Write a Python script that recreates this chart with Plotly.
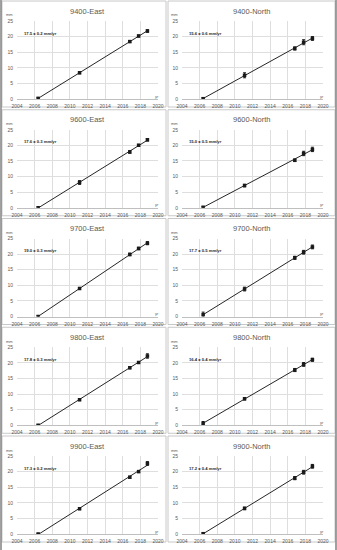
import numpy as np
import plotly.graph_objects as go

W, H = 337, 550

years = [2006.4, 2011.1, 2016.8, 2017.8, 2018.8]

titles = ["9400-East", "9400-North", "9600-East", "9600-North", "9700-East",
          "9700-North", "9800-East", "9800-North", "9900-East", "9900-North"]
rates = ["17.5 ± 0.2 mm/yr", "15.6 ± 0.6 mm/yr", "17.6 ± 0.3 mm/yr", "15.0 ± 0.5 mm/yr",
         "19.0 ± 0.3 mm/yr", "17.7 ± 0.5 mm/yr", "17.8 ± 0.3 mm/yr", "16.4 ± 0.4 mm/yr",
         "17.3 ± 0.2 mm/yr", "17.2 ± 0.4 mm/yr"]

v_9400_east = [0.2, 8.4, 18.4, 20.2, 21.8]
v_9400_north = [0.1, 7.6, 16.2, 18.2, 19.4]
v_9600_east = [0.0, 8.1, 17.9, 20.0, 21.8]
v_9600_north = [0.2, 7.1, 15.2, 17.4, 18.7]
v_9700_east = [0.0, 9.0, 19.9, 21.8, 23.5]
v_9700_north = [0.6, 8.8, 18.8, 20.6, 22.3]
v_9800_east = [0.0, 8.2, 18.4, 20.1, 22.2]
v_9800_north = [0.6, 8.5, 17.7, 19.5, 21.0]
v_9900_east = [0.0, 8.1, 18.2, 20.0, 22.6]
v_9900_north = [0.1, 8.2, 17.9, 19.8, 21.7]

e_9400_east = [0.3, 0.3, 0.3, 0.3, 0.4]
e_9400_north = [0.3, 0.8, 0.5, 0.8, 0.6]
e_9600_east = [0.2, 0.6, 0.4, 0.3, 0.4]
e_9600_north = [0.2, 0.4, 0.4, 0.7, 0.7]
e_9700_east = [0.2, 0.3, 0.4, 0.4, 0.5]
e_9700_north = [0.8, 0.6, 0.5, 0.6, 0.6]
e_9800_east = [0.2, 0.3, 0.3, 0.3, 0.7]
e_9800_north = [0.6, 0.4, 0.5, 0.6, 0.5]
e_9900_east = [0.2, 0.3, 0.3, 0.3, 0.6]
e_9900_north = [0.3, 0.4, 0.5, 0.6, 0.6]

values = [v_9400_east, v_9400_north, v_9600_east, v_9600_north, v_9700_east,
          v_9700_north, v_9800_east, v_9800_north, v_9900_east, v_9900_north]
errors = [e_9400_east, e_9400_north, e_9600_east, e_9600_north, e_9700_east,
          e_9700_north, e_9800_east, e_9800_north, e_9900_east, e_9900_north]

x_ticks = [2004, 2006, 2008, 2010, 2012, 2014, 2016, 2018, 2020]
y_ticks = [0, 5, 10, 15, 20, 25]

FONT = "Liberation Sans"
GRAY = "#595959"
GRID = "#dedede"

def px(x):
    return x / W

def py(y):
    return 1 - y / H

fig = go.Figure()
layout = {}
annotations = []
shapes = []

col_x = [(17, 158), (182, 323)]
box_x = [(2, 166), (168, 335)]
row_pitch = 108.75

for i in range(10):
    r, c = divmod(i, 2)
    top = 21 + row_pitch * r
    bot = 99 + row_pitch * r
    x0, x1 = col_x[c]
    n = "" if i == 0 else str(i + 1)
    xa, ya = "x" + n, "y" + n
    layout["xaxis" + n] = dict(
        domain=[px(x0), px(x1)], anchor=ya, range=[2004, 2020],
        tickvals=x_ticks, ticktext=[str(t) for t in x_ticks],
        showgrid=True, gridcolor=GRID, gridwidth=1, zeroline=False,
        showline=True, linecolor="#bfbfbf", linewidth=1, automargin=False,
        ticks="", ticklabeloverflow="allow", ticklabelstandoff=2,
        tickfont=dict(size=5, color=GRAY, family=FONT), fixedrange=True)
    layout["yaxis" + n] = dict(
        domain=[py(bot), py(top)], anchor=xa, range=[0, 25],
        tickvals=y_ticks, showgrid=True, gridcolor=GRID, gridwidth=1,
        zeroline=False, showline=False, ticks="", automargin=False,
        ticklabelstandoff=3,
        tickfont=dict(size=5, color=GRAY, family=FONT), fixedrange=True)

    vals = values[i]
    slope, icpt = np.polyfit(years, vals, 1)
    fx = [years[0], years[-1]]
    fig.add_trace(go.Scatter(x=fx, y=[slope * t + icpt for t in fx], mode="lines",
                             line=dict(color="#262626", width=1), xaxis=xa, yaxis=ya,
                             showlegend=False, hoverinfo="skip"))
    fig.add_trace(go.Scatter(x=years, y=vals, mode="markers",
                             marker=dict(symbol="square", size=3.5, color="#1a1a1a"),
                             error_y=dict(type="data", array=errors[i], color="#1a1a1a",
                                          thickness=1, width=1.5),
                             xaxis=xa, yaxis=ya, showlegend=False))

    # panel border
    bx0, bx1 = box_x[c]
    shapes.append(dict(type="rect", xref="paper", yref="paper",
                       x0=px(bx0), x1=px(bx1), y0=py(row_pitch * r + 107),
                       y1=py(row_pitch * r + 1),
                       line=dict(color="#c8c8c8", width=1), layer="below"))
    # title
    annotations.append(dict(text=titles[i], xref="paper", yref="paper",
                            x=px((x0 + x1) / 2), y=py(top - 10), showarrow=False,
                            xanchor="center", yanchor="middle",
                            font=dict(size=7.5, color=GRAY, family=FONT)))
    # mm label
    annotations.append(dict(text="mm", xref="paper", yref="paper",
                            x=px(x0 - 13), y=py(top - 6), xanchor="left",
                            yanchor="middle", showarrow=False,
                            font=dict(size=4, color=GRAY, family=FONT)))
    # yr label
    annotations.append(dict(text="yr", xref="paper", yref="paper",
                            x=px(x1 - 1), y=py(bot - 3), showarrow=False,
                            xanchor="center", yanchor="middle",
                            font=dict(size=4, color=GRAY, family=FONT)))
    # rate label
    annotations.append(dict(text="<b>" + rates[i] + "</b>", xref="paper", yref="paper",
                            x=px(x0 + 5), y=py(top + 12), xanchor="left",
                            yanchor="middle", showarrow=False,
                            font=dict(size=4.2, color="#262626", family=FONT)))

# outer frame lines
shapes.append(dict(type="line", xref="paper", yref="paper", x0=px(1), x1=px(1),
                   y0=0, y1=1, line=dict(color="#808080", width=1.5)))
shapes.append(dict(type="line", xref="paper", yref="paper", x0=px(336), x1=px(336),
                   y0=0, y1=1, line=dict(color="#808080", width=1.5)))

fig.update_layout(
    template="none",
    width=W, height=H, margin=dict(l=0, r=0, t=0, b=0),
    paper_bgcolor="white", plot_bgcolor="white",
    annotations=annotations, shapes=shapes, **layout)

fig.write_html("out.html", config={"displayModeBar": False},
               post_script="document.body.style.margin='0';document.body.style.padding='0';document.body.style.overflow='hidden';")
